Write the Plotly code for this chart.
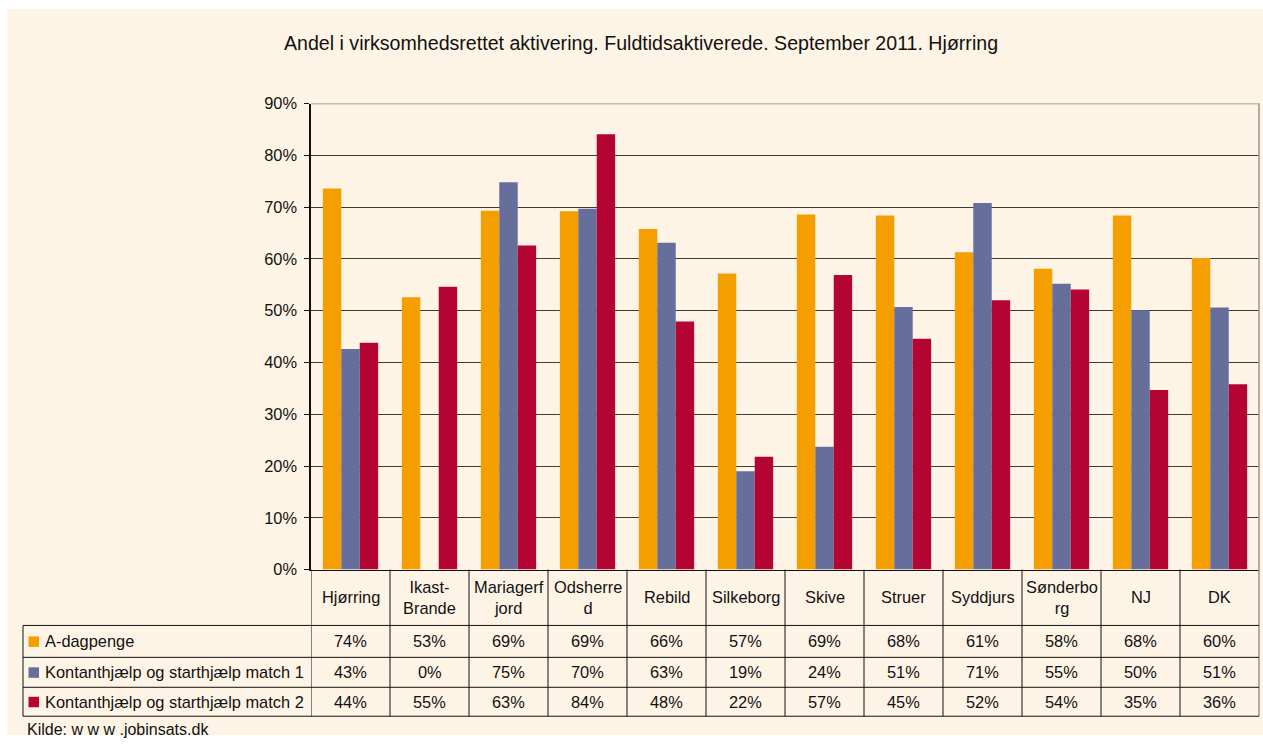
import plotly.graph_objects as go

categories = ["Hjørring", "Ikast-Brande", "Mariagerfjord", "Odsherred", "Rebild", "Silkeborg",
              "Skive", "Struer", "Syddjurs", "Sønderborg", "NJ", "DK"]
header_labels = ["Hjørring", "Ikast-<br>Brande", "Mariagerf<br>jord", "Odsherre<br>d", "Rebild", "Silkeborg",
                 "Skive", "Struer", "Syddjurs", "Sønderbo<br>rg", "NJ", "DK"]
series_names = ["A-dagpenge", "Kontanthjælp og starthjælp match 1", "Kontanthjælp og starthjælp match 2"]
a_dagpenge = [73.6, 52.6, 69.3, 69.2, 65.8, 57.2, 68.6, 68.4, 61.3, 58.1, 68.4, 60.2]
match1 = [42.6, 0.0, 74.8, 69.7, 63.1, 19.0, 23.7, 50.7, 70.8, 55.2, 50.1, 50.6]
match2 = [43.8, 54.6, 62.6, 84.1, 47.9, 21.8, 56.9, 44.6, 52.0, 54.1, 34.7, 35.8]
colors = ["#F59E00", "#666E9B", "#B30434"]
y_ticks = [0, 10, 20, 30, 40, 50, 60, 70, 80, 90]
title = "Andel i virksomhedsrettet aktivering. Fuldtidsaktiverede. September 2011. Hjørring"
source = "Kilde: w w w .jobinsats.dk"

W, H = 1263, 744
K = 0.978  # vertical compression observed in the photographed page


def px(x):
    return x / W


def py(y):
    # map a target pixel row to a paper coordinate, compensating the photo's vertical squeeze
    yp = 372 + (y - 372) / K
    return 1 - yp / H


FONT = "Liberation Sans, Arial, sans-serif"
BG = "#FEF4E6"
FS = 16.4

plot_left, plot_right, plot_top, plot_bottom = 311, 1259, 103, 570
row_lines = [626, 658, 688, 717]
row_centers = [642, 673, 702.5]
header_center = 598

fig = go.Figure()
series = [a_dagpenge, match1, match2]
for name, vals, c in zip(series_names, series, colors):
    fig.add_trace(go.Bar(x=categories, y=vals, name=name, marker=dict(color=c, line=dict(width=0)),
                         hoverinfo="x+y"))

shapes = []
annotations = []
# beige background
shapes.append(dict(type="rect", xref="paper", yref="paper", x0=px(7), x1=1, y0=0, y1=1,
                   fillcolor=BG, line=dict(width=0), layer="below"))
# top gridline gray + right border gray
shapes.append(dict(type="line", xref="paper", yref="y", x0=px(plot_left), x1=px(plot_right), y0=90, y1=90,
                   line=dict(color="#8a8580", width=1.5)))
shapes.append(dict(type="line", xref="paper", yref="paper", x0=px(plot_right), x1=px(plot_right),
                   y0=py(row_lines[-1]), y1=py(plot_top), line=dict(color="#9a9590", width=1.5)))
# table vertical lines at category boundaries
n = len(categories)
for i in range(n):
    shapes.append(dict(type="line", xref="x", yref="paper", x0=i - 0.5, x1=i - 0.5,
                       y0=py(row_lines[-1]), y1=py(plot_bottom), line=dict(color="#111", width=1)))
# table left edge
shapes.append(dict(type="line", xref="paper", yref="paper", x0=px(23), x1=px(23),
                   y0=py(row_lines[-1]), y1=py(row_lines[0]), line=dict(color="#111", width=1)))
# table horizontal lines
for yl in row_lines:
    shapes.append(dict(type="line", xref="paper", yref="paper", x0=px(23), x1=px(plot_right),
                       y0=py(yl), y1=py(yl), line=dict(color="#111", width=1)))

# header labels
for cat, lab in zip(categories, header_labels):
    annotations.append(dict(x=cat, y=py(header_center), xref="x", yref="paper", text=lab,
                            showarrow=False, xanchor="center", yanchor="middle",
                            font=dict(family=FONT, size=FS, color="#111")))
# data cells + legend
for r, (name, vals, c) in enumerate(zip(series_names, series, colors)):
    yc = row_centers[r]
    shapes.append(dict(type="rect", xref="paper", yref="paper", x0=px(28.5), x1=px(39),
                       y0=py(yc + 5.5), y1=py(yc - 5), fillcolor=c, line=dict(width=0)))
    annotations.append(dict(x=px(43), y=py(yc), xref="paper", yref="paper", text=name,
                            showarrow=False, xanchor="left", yanchor="middle",
                            font=dict(family=FONT, size=FS, color="#111")))
    for cat, v in zip(categories, vals):
        annotations.append(dict(x=cat, y=py(yc), xref="x", yref="paper", text=f"{v:.0f}%",
                                showarrow=False, xanchor="center", yanchor="middle",
                                font=dict(family=FONT, size=FS, color="#111")))
# title & source
annotations.append(dict(x=px(641), y=py(42), xref="paper", yref="paper", text=title, showarrow=False,
                        xanchor="center", yanchor="middle", font=dict(family=FONT, size=19.6, color="#111")))
annotations.append(dict(x=px(25), y=py(730), xref="paper", yref="paper", text=source, showarrow=False,
                        xanchor="left", yanchor="middle", font=dict(family=FONT, size=16, color="#111")))

fig.update_layout(
    width=W, height=H, autosize=False,
    margin=dict(l=0, r=0, t=0, b=0),
    paper_bgcolor="white", plot_bgcolor="rgba(0,0,0,0)",
    showlegend=False, barmode="group", bargap=0.3, bargroupgap=0,
    shapes=shapes, annotations=annotations,
    xaxis=dict(domain=[px(plot_left), px(plot_right)], range=[-0.5, n - 0.5], type="category",
               showticklabels=False, ticks="", showgrid=False, zeroline=False,
               showline=True, linecolor="#111", linewidth=1),
    yaxis=dict(domain=[py(plot_bottom), py(plot_top)], range=[0, 90], tickvals=y_ticks,
               ticktext=[f"{t}%" for t in y_ticks], ticks="outside", ticklen=5, tickcolor="#111",
               showline=True, linecolor="#111", linewidth=1.5, showgrid=True, gridcolor="#3c3c3c",
               gridwidth=1.3, zeroline=False, ticklabelstandoff=4,
               tickfont=dict(family=FONT, size=FS, color="#111")),
)
fig.write_html(
    "out.html",
    config={"displayModeBar": False},
    post_script=("var de=document.documentElement, b=document.body;"
                 "de.style.margin='0';de.style.padding='0';de.style.overflow='hidden';"
                 "b.style.margin='0';b.style.padding='0';b.style.overflow='hidden';"
                 "var gd=document.getElementById('{plot_id}');"
                 "gd.style.position='fixed';gd.style.top='0px';gd.style.left='0px';"),
)
